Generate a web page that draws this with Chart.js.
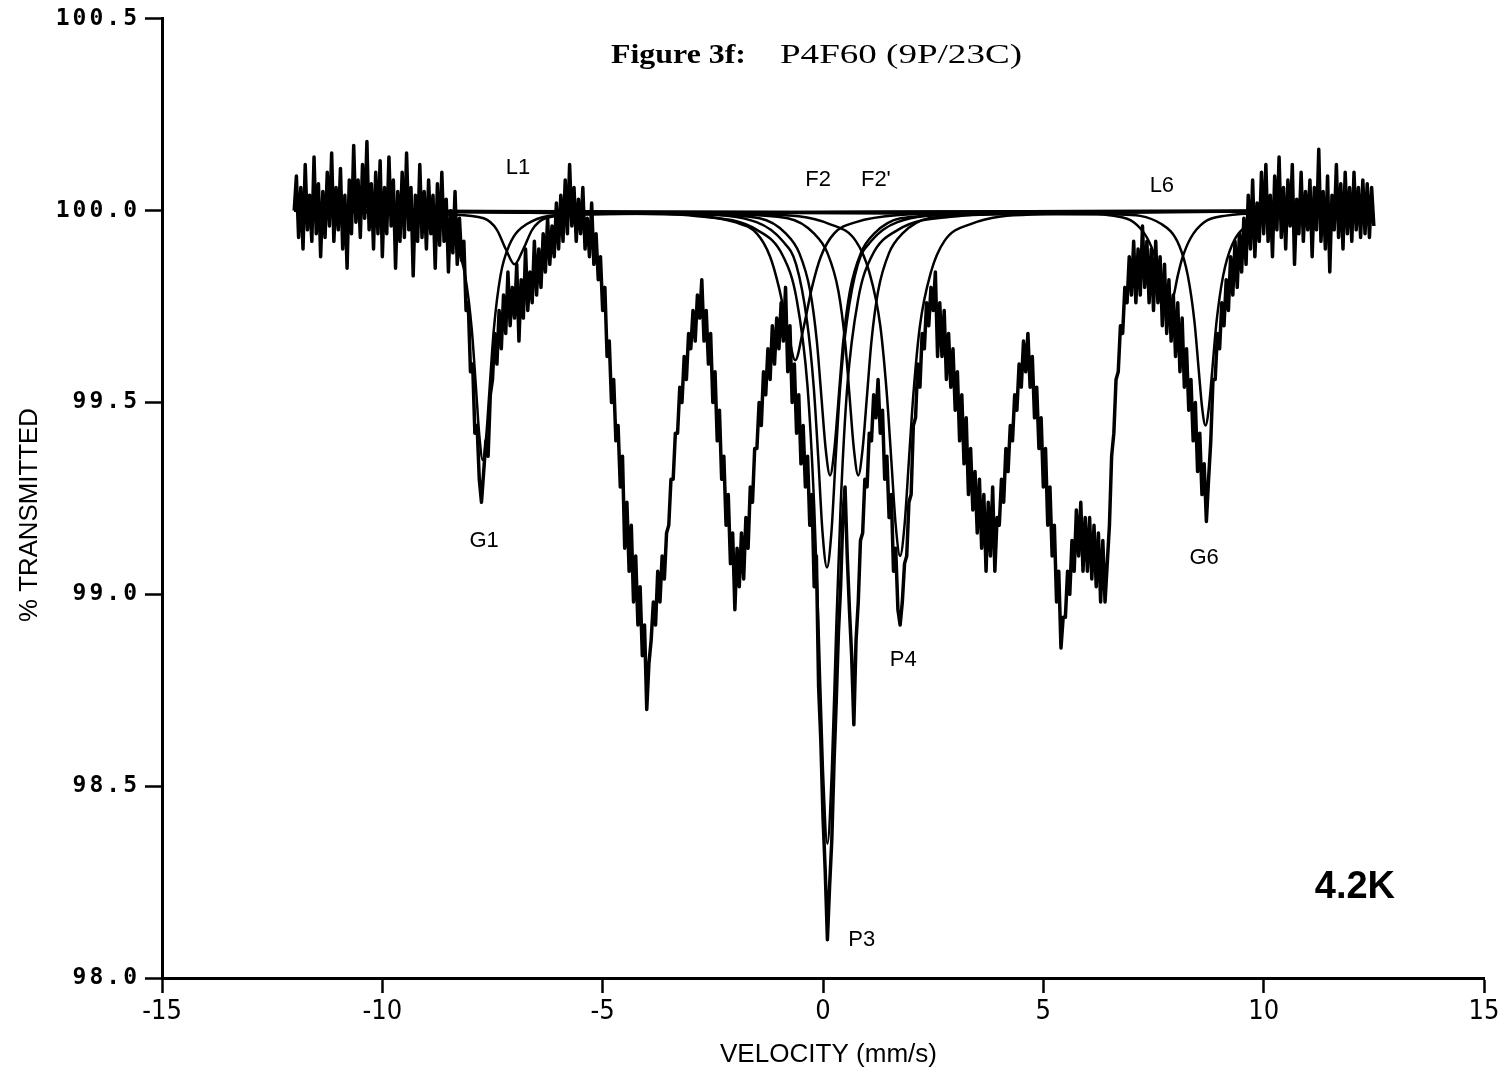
<!DOCTYPE html>
<html>
<head>
<meta charset="utf-8">
<title>P4F60 (9P/23C) - 4.2K</title>
<script src="https://cdn.jsdelivr.net/npm/chart.js@4.4.1/dist/chart.umd.min.js"></script>
<style>
  html, body { margin: 0; padding: 0; background: #fff; }
  canvas { display: block; }
</style>
</head>
<body>
<canvas id="spectrum" width="1509" height="1073"></canvas>
<script>
// channel calibration of the folded spectrum (mm/s)
const velStart = -12.0;
const velStep = 0.05;

// % transmission per channel, -12.00 ... 12.50 mm/s (10 channels per row)
const transmission = [
  100.00, 100.09, 99.93, 100.06, 99.90, 100.12, 99.95, 100.04, 99.92, 100.14,
  99.94, 100.07, 99.88, 100.05, 99.93, 100.10, 99.96, 100.15, 99.92, 100.06,
  99.95, 100.11, 99.90, 100.04, 99.85, 100.08, 99.94, 100.17, 99.97, 100.08,
  99.93, 100.12, 99.98, 100.18, 99.95, 100.07, 99.90, 100.10, 99.94, 100.13,
  99.88, 100.06, 99.94, 100.14, 99.96, 100.08, 99.85, 100.05, 99.92, 100.10,
  99.93, 100.15, 99.95, 100.06, 99.83, 100.04, 99.92, 100.12, 99.93, 100.05,
  99.90, 100.08, 99.94, 100.04, 99.85, 100.07, 99.91, 100.10, 99.92, 100.03,
  99.84, 100.00, 99.89, 100.05, 99.86, 99.98, 99.87, 99.92, 99.74, 99.76,
  99.58, 99.60, 99.42, 99.44, 99.30, 99.24, 99.32, 99.40, 99.36, 99.52,
  99.56, 99.68, 99.60, 99.74, 99.64, 99.78, 99.68, 99.84, 99.70, 99.80,
  99.72, 99.86, 99.66, 99.82, 99.72, 99.90, 99.74, 99.84, 99.76, 99.92,
  99.78, 99.90, 99.80, 99.94, 99.84, 99.98, 99.86, 99.96, 99.88, 100.02,
  99.90, 100.04, 99.92, 100.08, 99.94, 100.12, 99.96, 100.06, 99.92, 100.03,
  99.94, 100.06, 99.90, 99.98, 99.88, 100.02, 99.86, 99.94, 99.82, 99.88,
  99.74, 99.80, 99.62, 99.66, 99.50, 99.56, 99.40, 99.44, 99.28, 99.36,
  99.12, 99.24, 99.06, 99.18, 98.98, 99.10, 98.92, 99.02, 98.84, 98.92,
  98.70, 98.82, 98.88, 98.98, 98.92, 99.06, 98.98, 99.10, 99.04, 99.16,
  99.18, 99.30, 99.30, 99.42, 99.42, 99.54, 99.50, 99.62, 99.56, 99.68,
  99.64, 99.74, 99.66, 99.78, 99.72, 99.82, 99.66, 99.74, 99.60, 99.68,
  99.50, 99.58, 99.40, 99.48, 99.30, 99.36, 99.18, 99.26, 99.08, 99.16,
  98.96, 99.12, 99.02, 99.16, 99.04, 99.20, 99.12, 99.28, 99.24, 99.38,
  99.38, 99.50, 99.44, 99.58, 99.52, 99.64, 99.56, 99.70, 99.60, 99.72,
  99.64, 99.76, 99.66, 99.80, 99.58, 99.70, 99.50, 99.60, 99.42, 99.52,
  99.34, 99.44, 99.28, 99.36, 99.18, 99.26, 99.02, 99.10, 98.76, 98.62,
  98.42, 98.28, 98.10, 98.24, 98.36, 98.56, 98.72, 98.90, 99.02, 99.20,
  99.28, 99.10, 98.96, 98.84, 98.66, 98.88, 98.98, 99.14, 99.16, 99.30,
  99.28, 99.42, 99.40, 99.52, 99.46, 99.56, 99.42, 99.48, 99.30, 99.36,
  99.20, 99.26, 99.06, 99.12, 98.96, 98.92, 98.98, 99.08, 99.10, 99.24,
  99.26, 99.44, 99.46, 99.60, 99.54, 99.68, 99.64, 99.76, 99.70, 99.80,
  99.74, 99.84, 99.62, 99.76, 99.62, 99.74, 99.56, 99.68, 99.54, 99.64,
  99.48, 99.58, 99.40, 99.52, 99.34, 99.46, 99.26, 99.38, 99.22, 99.32,
  99.16, 99.30, 99.12, 99.26, 99.06, 99.24, 99.10, 99.28, 99.06, 99.20,
  99.18, 99.30, 99.24, 99.38, 99.32, 99.44, 99.40, 99.52, 99.48, 99.60,
  99.54, 99.66, 99.58, 99.68, 99.54, 99.62, 99.46, 99.54, 99.38, 99.46,
  99.28, 99.38, 99.18, 99.28, 99.10, 99.18, 98.98, 99.06, 98.86, 98.94,
  98.94, 99.06, 99.00, 99.14, 99.06, 99.22, 99.10, 99.24, 99.06, 99.20,
  99.06, 99.20, 99.04, 99.18, 99.02, 99.16, 98.98, 99.14, 98.98, 99.08,
  99.18, 99.36, 99.42, 99.56, 99.58, 99.70, 99.68, 99.80, 99.76, 99.88,
  99.78, 99.92, 99.76, 99.90, 99.78, 99.96, 99.80, 99.92, 99.76, 99.90,
  99.74, 99.92, 99.76, 99.88, 99.70, 99.86, 99.68, 99.82, 99.66, 99.78,
  99.62, 99.76, 99.58, 99.72, 99.54, 99.64, 99.48, 99.56, 99.40, 99.50,
  99.32, 99.42, 99.26, 99.34, 99.19, 99.30, 99.40, 99.56, 99.56, 99.68,
  99.64, 99.76, 99.70, 99.82, 99.74, 99.88, 99.78, 99.92, 99.80, 99.94,
  99.84, 99.98, 99.86, 100.04, 99.90, 100.08, 99.88, 100.02, 99.92, 100.10,
  99.94, 100.12, 99.92, 100.04, 99.88, 100.09, 99.95, 100.14, 99.93, 100.06,
  99.90, 100.08, 99.96, 100.12, 99.86, 100.03, 99.94, 100.10, 99.92, 100.05,
  99.95, 100.08, 99.88, 100.06, 99.95, 100.16, 99.92, 100.05, 99.90, 100.09,
  99.84, 100.04, 99.95, 100.12, 99.93, 100.07, 99.90, 100.10, 99.94, 100.06,
  99.92, 100.10, 99.95, 100.06, 99.93, 100.08, 99.94, 100.07, 99.93, 100.06,
  99.96
];

// fitted subspectra, [velocity mm/s, % transmission]
const fitG1 = [[-12, 100], [-9.72, 99.99], [-8.72, 99.965], [-8.32, 99.91], [-8.12, 99.83], [-7.97, 99.69], [-7.87, 99.53], [-7.8, 99.415], [-7.72, 99.35], [-7.64, 99.415], [-7.57, 99.53], [-7.47, 99.69], [-7.32, 99.83], [-7.12, 99.91], [-6.72, 99.965], [-5.72, 99.99], [12.5, 100]];
const fitL1 = [[-12, 100], [-8.5, 99.99], [-7.7, 99.98], [-7.4, 99.95], [-7.2, 99.9], [-7.0, 99.86], [-6.8, 99.9], [-6.6, 99.95], [-6.3, 99.98], [-5.5, 99.99], [12.5, 100]];
const fitM = [[-12, 100], [-4.6, 99.995], [-3.1, 99.99], [-2.0, 99.97], [-1.5, 99.94], [-1.2, 99.88], [-1.0, 99.8], [-0.8, 99.69], [-0.63, 99.61], [-0.45, 99.69], [-0.25, 99.8], [-0.05, 99.88], [0.25, 99.94], [0.75, 99.97], [1.9, 99.99], [3.4, 99.995], [12.5, 100]];
const fitF2 = [[-12, 100], [-2.84, 99.99], [-1.44, 99.98], [-0.84, 99.94], [-0.54, 99.89], [-0.29, 99.79], [-0.14, 99.66], [-0.04, 99.52], [0.06, 99.38], [0.16, 99.31], [0.26, 99.38], [0.36, 99.52], [0.46, 99.66], [0.61, 99.79], [0.86, 99.89], [1.16, 99.94], [1.76, 99.98], [3.16, 99.99], [12.5, 100]];
const fitF2b = [[-12, 100], [-2.91, 99.99], [-1.51, 99.97], [-0.91, 99.92], [-0.61, 99.86], [-0.36, 99.71], [-0.21, 99.54], [-0.11, 99.36], [-0.01, 99.16], [0.09, 99.07], [0.19, 99.16], [0.29, 99.36], [0.39, 99.54], [0.54, 99.71], [0.79, 99.86], [1.09, 99.92], [1.69, 99.97], [3.09, 99.99], [12.5, 100]];
const fitP3 = [[-12, 100], [-4.9, 99.995], [-2.9, 99.986], [-1.5, 99.95], [-0.9, 99.88], [-0.6, 99.77], [-0.35, 99.54], [-0.2, 99.23], [-0.1, 98.91], [0.0, 98.54], [0.1, 98.35], [0.2, 98.54], [0.3, 98.91], [0.4, 99.23], [0.55, 99.54], [0.8, 99.77], [1.1, 99.88], [1.7, 99.95], [3.1, 99.986], [5.1, 99.995], [12.5, 100]];
const fitF2p = [[-12, 100], [-2.2, 99.99], [-0.8, 99.98], [-0.2, 99.94], [0.1, 99.89], [0.35, 99.79], [0.5, 99.66], [0.6, 99.52], [0.7, 99.38], [0.8, 99.31], [0.9, 99.38], [1.0, 99.52], [1.1, 99.66], [1.25, 99.79], [1.5, 99.89], [1.8, 99.94], [2.4, 99.98], [3.8, 99.99], [12.5, 100]];
const fitP4 = [[-12, 100], [-1.25, 99.99], [0.15, 99.965], [0.75, 99.92], [1.05, 99.84], [1.3, 99.70], [1.45, 99.52], [1.55, 99.35], [1.65, 99.18], [1.75, 99.1], [1.85, 99.18], [1.95, 99.35], [2.05, 99.52], [2.2, 99.70], [2.45, 99.84], [2.75, 99.92], [3.35, 99.965], [4.75, 99.99], [12.5, 100]];
const fitL6 = [[-12, 100], [5.5, 99.995], [6.55, 99.987], [7.05, 99.97], [7.35, 99.93], [7.55, 99.875], [7.65, 99.83], [7.75, 99.775], [7.85, 99.75], [7.95, 99.775], [8.05, 99.83], [8.15, 99.875], [8.35, 99.93], [8.65, 99.97], [9.15, 99.987], [10.2, 99.995], [12.5, 100]];
const fitG6 = [[-12, 100], [6.68, 99.99], [7.68, 99.965], [8.08, 99.91], [8.28, 99.83], [8.43, 99.71], [8.53, 99.58], [8.6, 99.49], [8.68, 99.44], [8.76, 99.49], [8.83, 99.58], [8.93, 99.71], [9.08, 99.83], [9.28, 99.91], [9.68, 99.965], [10.68, 99.99], [12.5, 100]];

const xTicks = [-15, -10, -5, 0, 5, 10, 15];
const yTicks = [98.0, 98.5, 99.0, 99.5, 100.0, 100.5];

// peak names, placed at [velocity, % transmission]
const peakNames = [
  ['L1', -6.92, 100.11], ['F2', -0.11, 100.08], ["F2'", 1.2, 100.08], ['L6', 7.69, 100.065],
  ['G1', -7.69, 99.14], ['G6', 8.65, 99.094], ['P4', 1.82, 98.83], ['P3', 0.88, 98.10]
];

const channels = transmission.map((t, i) => ({ x: velStart + i * velStep, y: t }));
const fits = [fitG1, fitL1, fitM, fitF2, fitF2b, fitP3, fitF2p, fitP4, fitL6, fitG6];

const condensed = "'DejaVu Sans Condensed', 'DejaVu Sans', sans-serif";

// draws text stretched/squeezed to a given width
function drawFitted(ctx, text, font, x, y, width, angle) {
  ctx.save();
  ctx.font = font;
  ctx.letterSpacing = '0px';
  const k = width / ctx.measureText(text).width;
  ctx.translate(x, y);
  if (angle) ctx.rotate(angle);
  ctx.scale(k, 1);
  ctx.fillStyle = '#000';
  ctx.textAlign = 'left';
  ctx.textBaseline = 'alphabetic';
  ctx.fillText(text, 0, 0);
  ctx.restore();
}

const textLayer = {
  id: 'textLayer',
  beforeDraw(chart) {
    // wide plotter look for the y tick numbers (drawn under the datasets)
    chart.ctx.letterSpacing = '3px';
  },
  beforeDatasetsDraw(chart) {
    chart.ctx.letterSpacing = '0px';
  },
  afterDraw(chart) {
    const ctx = chart.ctx;
    const xs = chart.scales.x, ys = chart.scales.y;
    ctx.save();
    ctx.letterSpacing = '0px';
    ctx.fillStyle = '#000';
    ctx.textAlign = 'center';
    ctx.textBaseline = 'middle';
    ctx.font = "22px 'Liberation Sans', Arial, sans-serif";
    peakNames.forEach(([name, v, t]) => {
      ctx.fillText(name, xs.getPixelForValue(v), ys.getPixelForValue(t));
    });
    ctx.font = "bold 38px 'Liberation Sans', Arial, sans-serif";
    ctx.fillText('4.2K', xs.getPixelForValue(12.07), ys.getPixelForValue(98.237));
    ctx.restore();

    drawFitted(ctx, 'Figure 3f:', "bold 28px 'Liberation Serif', serif", 611, 63, 135);
    drawFitted(ctx, 'P4F60 (9P/23C)', "28px 'Liberation Serif', serif", 780, 63, 242);
    drawFitted(ctx, '% TRANSMITTED', "25px 'Liberation Sans', sans-serif", 37, 622, 214, -Math.PI / 2);
    drawFitted(ctx, 'VELOCITY (mm/s)', "26px 'Liberation Sans', sans-serif", 720, 1062, 217);
  }
};

new Chart(document.getElementById('spectrum'), {
  type: 'scatter',
  data: {
    datasets: [
      {
        data: channels,
        showLine: true,
        borderColor: '#000',
        borderWidth: 3.5,
        borderJoinStyle: 'round',
        pointRadius: 0,
        tension: 0
      },
      ...fits.map(f => ({
        data: f.map(([x, y]) => ({ x, y })),
        showLine: true,
        borderColor: '#000',
        borderWidth: 2.5,
        pointRadius: 0,
        cubicInterpolationMode: 'monotone'
      }))
    ]
  },
  options: {
    responsive: false,
    animation: false,
    layout: { padding: { top: 18, right: 25, left: 0, bottom: 0 } },
    plugins: { legend: { display: false }, tooltip: { enabled: false } },
    scales: {
      x: {
        type: 'linear',
        min: -15,
        max: 15,
        afterBuildTicks: s => { s.ticks = xTicks.map(v => ({ value: v })); },
        afterFit: s => { s.height = 95; },
        border: { display: true, color: '#000', width: 3 },
        grid: { drawOnChartArea: false, drawTicks: true, tickLength: 15, tickWidth: 2.5, tickColor: '#000' },
        ticks: {
          z: 1,
          color: '#000',
          padding: 3,
          maxRotation: 0,
          font: { family: condensed, size: 27 },
          callback: v => String(v)
        }
      },
      y: {
        type: 'linear',
        min: 98,
        max: 100.5,
        afterBuildTicks: s => { s.ticks = yTicks.map(v => ({ value: v })); },
        afterFit: s => { s.width = 162; },
        border: { display: true, color: '#000', width: 3 },
        grid: { drawOnChartArea: false, drawTicks: true, tickLength: 17, tickWidth: 2.5, tickColor: '#000' },
        ticks: {
          color: '#000',
          padding: 5,
          font: { family: "'DejaVu Sans Mono', monospace", size: 23, weight: 'bold' },
          callback: v => v.toFixed(1)
        }
      }
    }
  },
  plugins: [textLayer]
});
</script>
</body>
</html>
